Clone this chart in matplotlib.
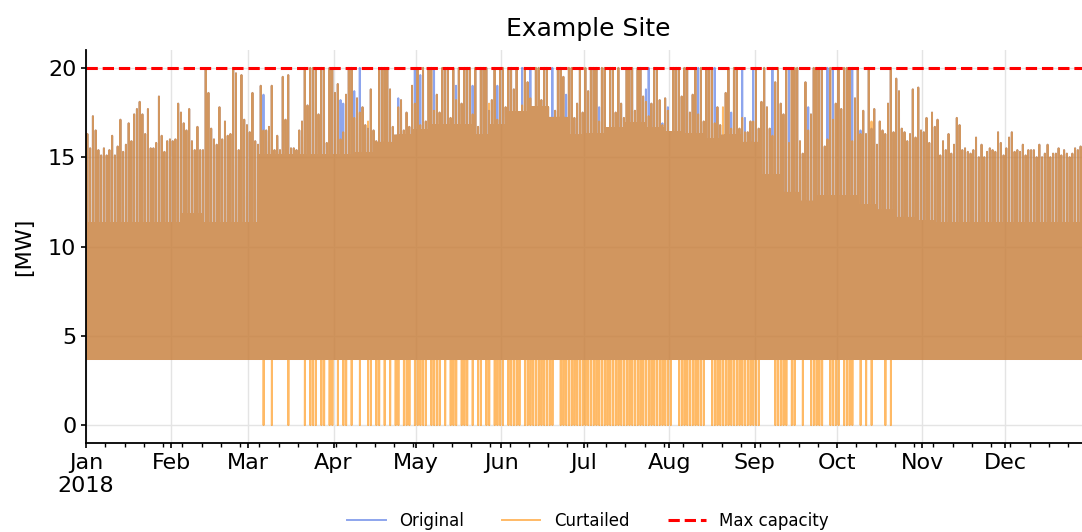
import numpy as np
import pandas as pd
import matplotlib
matplotlib.use("Agg")
import matplotlib.pyplot as plt
import matplotlib.dates as mdates

# Daily peak output of the original profile [MW], read per month
jan = [16.3, 15.5, 17.3, 16.5, 15.4, 15.1, 15.5, 15.1, 15.4, 16.2, 15.1, 15.6, 17.1, 15.3, 15.7, 16.9,
       15.9, 17.4, 17.7, 18.1, 17.4, 16.3, 17.7, 15.5, 15.5, 15.8, 18.4, 16.2, 15.3, 15.9, 16.0]
feb = [15.9, 16.0, 18.0, 17.5, 16.9, 16.5, 17.7, 15.9, 15.4, 16.7, 15.4, 15.4, 19.9, 18.6, 16.6, 16.0,
       15.7, 17.8, 16.0, 17.0, 16.2, 16.3, 20.0, 19.7, 15.4, 19.6, 17.1, 16.8]
mar = [16.4, 18.6, 15.9, 15.7, 19.0, 18.5, 16.5, 16.7, 19.0, 15.4, 16.2, 15.4, 19.5, 17.1, 19.6, 15.5,
       15.5, 15.4, 16.5, 17.0, 20.0, 17.9, 20.0, 20.0, 20.0, 17.4, 20.0, 20.0, 15.8, 20.0, 20.0]
apr = [18.6, 19.1, 18.2, 18.0, 18.5, 20.0, 20.0, 18.7, 18.3, 20.0, 17.8, 16.8, 16.6, 18.8, 16.5, 15.9,
       20.0, 20.0, 20.0, 20.0, 18.8, 16.7, 16.2, 18.3, 18.2, 16.5, 17.5, 16.7, 19.0, 20.0]
may = [20.0, 19.6, 20.0, 17.0, 20.0, 20.0, 20.0, 18.5, 17.5, 20.0, 20.0, 20.0, 17.2, 20.0, 19.0, 20.0,
       18.0, 20.0, 20.0, 20.0, 19.0, 20.0, 16.7, 20.0, 20.0, 20.0, 17.6, 18.2, 20.0, 19.0, 20.0]
jun = [20.0, 17.8, 20.0, 20.0, 18.8, 20.0, 17.5, 20.0, 20.0, 19.2, 20.0, 17.8, 20.0, 20.0, 18.2, 20.0,
       20.0, 16.8, 20.0, 17.6, 20.0, 20.0, 19.5, 18.5, 20.0, 20.0, 17.2, 18.0, 20.0, 17.5]
jul = [20.0, 18.7, 20.0, 20.0, 20.0, 17.8, 20.0, 20.0, 16.5, 20.0, 20.0, 17.5, 20.0, 18.0, 17.2, 20.0,
       20.0, 20.0, 17.6, 20.0, 20.0, 18.4, 18.8, 20.0, 18.0, 20.0, 20.0, 18.2, 16.9, 18.3, 17.8]
aug = [15.8, 20.0, 20.0, 20.0, 18.4, 20.0, 20.0, 17.5, 18.5, 20.0, 20.0, 20.0, 17.0, 20.0, 20.0, 20.0,
       20.0, 17.8, 16.8, 15.8, 18.6, 20.0, 17.5, 20.0, 20.0, 16.6, 20.0, 17.2, 16.4, 17.0, 20.0]
sep = [20.0, 16.6, 18.1, 20.0, 17.8, 16.6, 20.0, 19.2, 20.0, 18.0, 17.4, 20.0, 20.0, 20.0, 20.0, 20.0,
       15.9, 15.2, 19.2, 17.8, 17.4, 20.0, 20.0, 20.0, 20.0, 15.6, 20.0, 20.0, 20.0, 18.0]
oct_ = [20.0, 17.7, 20.0, 20.0, 20.0, 20.0, 18.3, 20.0, 16.5, 17.6, 16.3, 20.0, 16.6, 17.7, 15.7, 17.0,
        16.5, 16.3, 18.0, 20.0, 16.4, 19.4, 18.7, 16.6, 16.4, 15.9, 16.3, 18.8, 16.1, 18.9, 16.5]
nov = [16.4, 17.2, 15.8, 17.5, 16.7, 17.1, 15.1, 15.9, 15.4, 16.3, 15.2, 15.7, 17.2, 16.8, 15.4, 15.5,
       15.3, 15.2, 15.4, 16.1, 15.0, 15.7, 15.0, 15.3, 15.5, 15.4, 15.3, 16.4, 15.8, 15.1]
dec = [15.5, 16.1, 16.4, 15.3, 15.4, 15.3, 15.7, 15.1, 15.4, 15.4, 15.4, 15.0, 15.7, 15.0, 15.2, 15.7,
       15.0, 15.2, 15.2, 15.5, 15.1, 15.4, 15.2, 15.0, 15.2, 15.5, 15.4, 15.6, 15.8, 15.9, 16.0]

# Typical daytime level per week (week 0 starts 1 Jan) [MW]
plateau = [11.3, 11.3, 11.3, 11.3, 11.3, 11.8, 11.3, 11.3, 11.3, 15.1, 15.1, 15.1, 15.1,
           15.1, 15.2, 15.8, 16.2, 16.5, 16.8, 16.8, 16.2, 16.8, 17.5, 17.8, 17.2, 16.2,
           16.3, 16.6, 16.9, 16.6, 16.4, 16.3, 16.0, 16.2, 15.8, 14.0, 13.0, 12.5, 12.8,
           12.8, 12.3, 12.0, 11.6, 11.4, 11.3, 11.3, 11.3, 11.3, 11.3, 11.3, 11.3, 11.3, 11.3]
night_level = 3.7
max_capacity = 20

# Days (day of year, 0 = 1 Jan) where curtailed peak was cut, and the cut peak value
cut_days = [64, 92, 93, 97, 99, 102, 113, 119, 121, 126, 134, 140, 146, 149, 158, 161, 169, 174, 180,
            186, 203, 204, 209, 211, 222, 228, 231, 234, 238, 239, 242, 249, 255, 262, 269, 271, 278,
            281, 285]
cut_peaks = [16.5, 16.0, 16.4, 17.2, 17.5, 17.0, 17.8, 18.0, 16.8, 17.6, 18.2, 17.4, 18.0, 17.1, 17.9,
             18.3, 17.2, 16.9, 17.5, 17.0, 18.1, 17.3, 16.8, 17.6, 17.4, 16.9, 17.8, 16.6, 17.2, 16.4,
             17.0, 16.2, 15.8, 16.5, 16.0, 17.1, 15.9, 16.3, 17.0]

# Day spans (inclusive) where the curtailed output drops to zero for an hour
zero_spans = [(64, 64), (67, 67), (73, 73), (79, 79), (81, 83), (85, 86), (88, 89), (91, 91), (93, 94),
              (96, 96), (99, 99), (102, 103), (105, 106), (108, 108), (110, 110), (112, 113),
              (115, 117), (119, 123), (125, 128), (130, 130), (132, 134), (136, 138), (140, 140),
              (142, 143), (145, 146), (148, 151), (153, 157), (159, 169), (172, 212), (215, 224),
              (227, 244), (250, 254), (256, 257), (260, 260), (263, 267), (270, 273), (275, 278),
              (281, 281), (283, 283), (285, 285), (290, 290), (292, 292)]

# Hour-by-hour shape of a day: n = night level, p = plateau, P = daily peak
day_shape = ['n', 'p', 'n', 'p', 'n', 'p', 'n', 'p', 'n', 'p', 'n', 'p',
             'P', 'p', 'n', 'p', 'n', 'p', 'n', 'p', 'n', 'p', 'n', 'p']
peak_hour = day_shape.index('P')

peaks = jan + feb + mar + apr + may + jun + jul + aug + sep + oct_ + nov + dec
days = pd.date_range('2018-01-01', periods=len(peaks), freq='D')

original = []
curtailed = []
cut_lookup = dict(zip(cut_days, cut_peaks))
zero_days = set()
for start, end in zero_spans:
    zero_days.update(range(start, end + 1))

for i, day in enumerate(days):
    levels = {'n': night_level, 'p': plateau[i // 7], 'P': peaks[i]}
    orig_day = [levels[s] for s in day_shape]
    curt_day = list(orig_day)
    if i in cut_lookup:
        curt_day[peak_hour] = cut_lookup[i]
    if i in zero_days:
        curt_day[peak_hour + 1] = 0
    original.extend(orig_day)
    curtailed.extend(curt_day)

index = pd.date_range('2018-01-01', periods=len(original), freq='h')
series = pd.DataFrame({'Original': original, 'Curtailed': curtailed}, index=index)

fig = plt.figure(figsize=(10.82, 5.32), dpi=100)
ax = fig.add_axes([0.0795, 0.1673, 0.928, 0.7387])

ax.plot(series.index, series['Original'], color='royalblue', alpha=0.6, lw=1.4, label='Original')
ax.plot(series.index, series['Curtailed'], color='darkorange', alpha=0.6, lw=1.4, label='Curtailed')
ax.axhline(max_capacity, color='red', ls='--', lw=2.2, label='Max capacity')

ax.set_xlim(index[0], index[-1])
ax.set_ylim(-1, 21)
ax.set_yticks([0, 5, 10, 15, 20])
ax.grid(True, color='#e4e4e4', lw=1)
ax.set_axisbelow(True)

ax.xaxis.set_major_locator(mdates.MonthLocator())
ax.xaxis.set_minor_locator(mdates.WeekdayLocator(byweekday=mdates.MO))


def month_label(x, pos):
    d = mdates.num2date(x)
    if d.month == 1:
        return d.strftime('%b\n%Y')
    return d.strftime('%b')


ax.xaxis.set_major_formatter(plt.FuncFormatter(month_label))
ax.tick_params(axis='both', labelsize=16, width=1.2)
ax.tick_params(axis='x', which='minor', length=3, width=1)

for side in ['top', 'right']:
    ax.spines[side].set_visible(False)
for side in ['left', 'bottom']:
    ax.spines[side].set_linewidth(1.3)

ax.set_ylabel('[MW]', fontsize=16, labelpad=10)
ax.set_title('Example Site', fontsize=18, pad=10)
ax.legend(loc='center', bbox_to_anchor=(0.5, -0.198), ncol=3, frameon=False,
          fontsize=12, handlelength=2.3, columnspacing=2.3)

fig.savefig('out.png', dpi=100)
